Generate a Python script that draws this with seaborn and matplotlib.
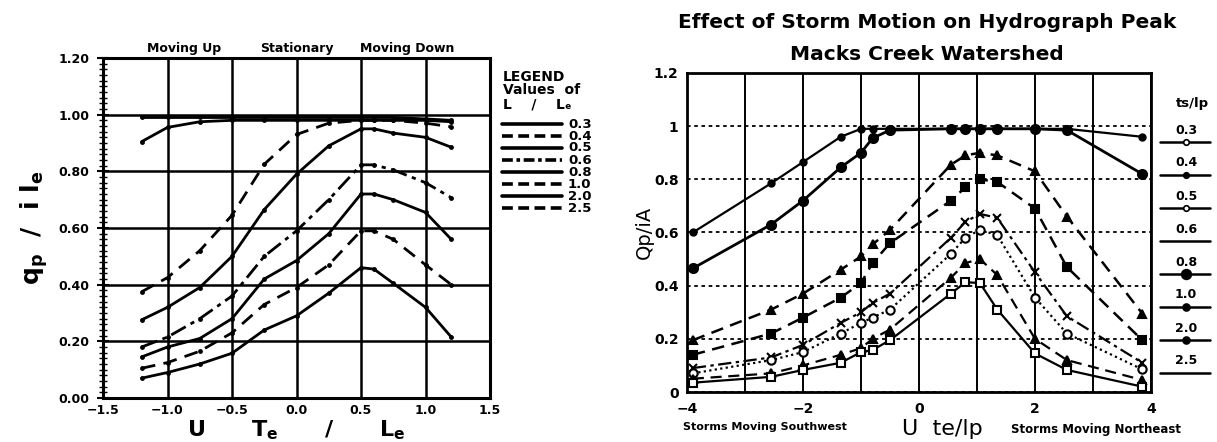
import matplotlib
matplotlib.use("Agg")
import matplotlib.pyplot as plt
from matplotlib.lines import Line2D
from matplotlib.ticker import FixedLocator, MultipleLocator
import seaborn as sns
import pandas as pd

sns.set_theme(style="white")
plt.rcParams['font.family'] = ['DejaVu Sans']
plt.rcParams['text.color'] = 'black'
plt.rcParams['axes.labelcolor'] = 'black'
plt.rcParams['xtick.color'] = 'black'
plt.rcParams['ytick.color'] = 'black'

# ---------------- Left panel data ----------------
L_LABELS = ["0.3", "0.4", "0.5", "0.6", "0.8", "1.0", "2.0", "2.5"]
L_X = [-1.2, -1.0, -0.75, -0.5, -0.25, 0.0, 0.25, 0.5, 0.6, 0.75, 1.0, 1.2]
L_03 = [0.99, 0.99, 0.99, 0.99, 0.99, 0.99, 0.99, 0.99, 0.99, 0.99, 0.985, 0.98]
L_04 = [0.905, 0.955, 0.975, 0.98, 0.98, 0.98, 0.98, 0.98, 0.98, 0.98, 0.98, 0.975]
L_05 = [0.375, 0.425, 0.52, 0.645, 0.825, 0.93, 0.97, 0.98, 0.98, 0.98, 0.97, 0.957]
L_06 = [0.276, 0.32, 0.39, 0.50, 0.665, 0.79, 0.89, 0.95, 0.95, 0.935, 0.92, 0.885]
L_08 = [0.18, 0.215, 0.28, 0.36, 0.50, 0.59, 0.70, 0.823, 0.823, 0.805, 0.76, 0.707]
L_10 = [0.145, 0.18, 0.21, 0.28, 0.42, 0.485, 0.58, 0.72, 0.72, 0.70, 0.655, 0.56]
L_20 = [0.105, 0.125, 0.165, 0.23, 0.33, 0.39, 0.47, 0.59, 0.59, 0.56, 0.47, 0.40]
L_25 = [0.07, 0.09, 0.12, 0.158, 0.24, 0.29, 0.37, 0.46, 0.455, 0.405, 0.32, 0.215]
L_SERIES = [L_03, L_04, L_05, L_06, L_08, L_10, L_20, L_25]
L_XTICKS = [-1.5, -1.0, -0.5, 0.0, 0.5, 1.0, 1.5]
L_XTICKLABELS = ["\u22121.5", "\u22121.0", "\u22120.5", "0.0", "0.5", "1.0", "1.5"]
L_YTICKS = [0.0, 0.2, 0.4, 0.6, 0.8, 1.0, 1.2]
L_YTICKLABELS = ["0.00", "0.20", "0.40", "0.60", "0.80", "1.00", "1.20"]

# ---------------- Right panel data ----------------
R_LABELS = ["0.3", "0.4", "0.5", "0.6", "0.8", "1.0", "2.0", "2.5"]
R_X = [-3.9, -2.55, -2.0, -1.35, -1.0, -0.8, -0.5, 0.55, 0.8, 1.05, 1.35, 2.0, 2.55, 3.85]
R_03 = [0.60, 0.785, 0.865, 0.96, 0.99, 0.99, 0.99, 0.99, 0.99, 0.99, 0.99, 0.99, 0.99, 0.96]
R_04 = [0.465, 0.63, 0.72, 0.845, 0.90, 0.955, 0.985, 0.99, 0.99, 0.99, 0.99, 0.99, 0.985, 0.82]
R_05 = [0.195, 0.31, 0.37, 0.46, 0.51, 0.555, 0.61, 0.855, 0.89, 0.90, 0.89, 0.83, 0.66, 0.295]
R_06 = [0.14, 0.22, 0.28, 0.355, 0.41, 0.485, 0.56, 0.72, 0.77, 0.80, 0.79, 0.69, 0.47, 0.195]
R_08 = [0.09, 0.13, 0.177, 0.26, 0.30, 0.335, 0.37, 0.58, 0.64, 0.67, 0.655, 0.45, 0.285, 0.11]
R_10 = [0.07, 0.12, 0.15, 0.22, 0.26, 0.28, 0.31, 0.52, 0.58, 0.61, 0.59, 0.355, 0.22, 0.085]
R_20 = [0.05, 0.07, 0.10, 0.14, 0.165, 0.20, 0.235, 0.43, 0.485, 0.50, 0.44, 0.20, 0.12, 0.045]
R_25 = [0.035, 0.057, 0.083, 0.11, 0.15, 0.158, 0.195, 0.37, 0.413, 0.41, 0.31, 0.145, 0.083, 0.02]
R_SERIES = [R_03, R_04, R_05, R_06, R_08, R_10, R_20, R_25]
R_XTICKS = [-4, -2, 0, 2, 4]
R_XTICKLABELS = ["\u22124", "\u22122", "0", "2", "4"]
R_YTICKS = [0, 0.2, 0.4, 0.6, 0.8, 1.0, 1.2]
R_YTICKLABELS = ["0", "0.2", "0.4", "0.6", "0.8", "1", "1.2"]

left_df = pd.DataFrame([(lab, x, y) for lab, ys in zip(L_LABELS, L_SERIES) for x, y in zip(L_X, ys)],
                       columns=["ratio", "x", "y"])
right_df = pd.DataFrame([(lab, x, y) for lab, ys in zip(R_LABELS, R_SERIES) for x, y in zip(R_X, ys)],
                        columns=["ratio", "x", "y"])

W, H = 1217, 442
fig = plt.figure(figsize=(W / 100, H / 100), dpi=100)
fig.patch.set_facecolor("white")


def fx(px):
    return px / W


def fy(py):
    return 1 - py / H


# ================= LEFT PANEL =================
axL = fig.add_axes([fx(103), fy(398), fx(490) - fx(103), fy(58) - fy(398)])
l_styles = ["-", "-", (0, (5, 3)), "-", (0, (6, 2, 1.5, 2)), "-", (0, (5, 3)), "-"]
for lab, ls in zip(L_LABELS, l_styles):
    sub = left_df[left_df["ratio"] == lab]
    sns.lineplot(data=sub, x="x", y="y", ax=axL, color="black", linewidth=2.0,
                 linestyle=ls, marker="o", markersize=3.5, markeredgewidth=0,
                 sort=False, legend=False)
axL.set_xlim(-1.5, 1.5)
axL.set_ylim(0, 1.2)
axL.xaxis.set_major_locator(FixedLocator(L_XTICKS))
axL.set_xticklabels(L_XTICKLABELS, fontsize=9, fontweight="bold")
axL.yaxis.set_major_locator(FixedLocator(L_YTICKS))
axL.set_yticklabels(L_YTICKLABELS, fontsize=9, fontweight="bold")
axL.yaxis.set_minor_locator(MultipleLocator(0.02))
axL.tick_params(axis="y", which="major", direction="inout", length=8, width=1.5, left=True, pad=6)
axL.tick_params(axis="y", which="minor", direction="inout", length=6, width=1.0, left=True)
axL.tick_params(axis="x", which="major", direction="in", length=0, pad=4)
axL.grid(True, color="black", linewidth=1.8)
axL.set_axisbelow(True)
for s in axL.spines.values():
    s.set_linewidth(2.2)
    s.set_color("black")
axL.set_xlabel("U      T$_\\mathbf{e}$      /      L$_\\mathbf{e}$", fontsize=16, fontweight="bold",
               labelpad=1)
axL.set_ylabel("q$_\\mathbf{p}$  /  i l$_\\mathbf{e}$", fontsize=18, fontweight="bold", labelpad=6)
for txt, xd in [("Moving Up", -0.87), ("Stationary", 0.0), ("Moving Down", 0.86)]:
    axL.text(xd, 1.008, txt, transform=axL.get_xaxis_transform(), ha="center", va="bottom",
             fontsize=9, fontweight="bold")

# left legend (custom)
fig.text(fx(503), fy(77), "LEGEND", fontsize=10, fontweight="bold", va="center", ha="left")
fig.text(fx(503), fy(90), "Values  of", fontsize=10, fontweight="bold", va="center", ha="left")
fig.text(fx(503), fy(104), "L    /    L\u2091", fontsize=10, fontweight="bold",
         va="center", ha="left")
leg_styles = ["-", (0, (3, 1.5)), "-", (0, (3, 1, 1, 1)), "-", (0, (3, 1.5)), "-", (0, (3, 1.5))]
for i, (lab, ls) in enumerate(zip(L_LABELS, leg_styles)):
    ypx = 124 + i * 12
    fig.add_artist(Line2D([fx(502), fx(562)], [fy(ypx), fy(ypx)], transform=fig.transFigure,
                          color="black", linewidth=2.6, linestyle=ls))
    fig.text(fx(568), fy(ypx), lab, fontsize=9.5, fontweight="bold", va="center", ha="left")

# ================= RIGHT PANEL =================
axR = fig.add_axes([fx(687), fy(392), fx(1151) - fx(687), fy(73) - fy(392)])
r_styles = ["-", "-", (0, (5, 3)), (0, (5, 3)), (0, (6, 2, 1.5, 2)), (0, (1, 1.5)), (0, (5, 3)), "-"]
r_markers = ["o", "o", "^", "s", "x", "o", "^", "s"]
r_ms = [4.5, 6.5, 6, 6, 6, 6, 5.5, 5.5]
r_fill = ["black", "black", "black", "black", "black", "white", "black", "white"]
r_lw = [1.6, 2.0, 1.8, 1.8, 1.6, 1.6, 1.6, 1.6]
for lab, ls, mk, ms, fc, lw in zip(R_LABELS, r_styles, r_markers, r_ms, r_fill, r_lw):
    sub = right_df[right_df["ratio"] == lab]
    sns.lineplot(data=sub, x="x", y="y", ax=axR, color="black", linewidth=lw,
                 linestyle=ls, marker=mk, markersize=ms, markerfacecolor=fc,
                 markeredgecolor="black", markeredgewidth=1.5, sort=False, legend=False)
axR.set_xlim(-4, 4)
axR.set_ylim(0, 1.2)
axR.xaxis.set_major_locator(FixedLocator(R_XTICKS))
axR.set_xticklabels(R_XTICKLABELS, fontsize=10, fontweight="bold")
axR.yaxis.set_major_locator(FixedLocator(R_YTICKS))
axR.set_yticklabels(R_YTICKLABELS, fontsize=10, fontweight="bold")
axR.xaxis.set_minor_locator(MultipleLocator(1))
axR.tick_params(axis="x", which="both", length=0, pad=7)
axR.tick_params(axis="y", which="both", length=0, pad=6)
axR.grid(False)
axR.grid(True, axis="x", which="both", color="black", linewidth=1.4)
axR.grid(True, axis="y", which="major", color="black", linewidth=1.3, linestyle=(0, (2, 2)))
axR.set_axisbelow(True)
for s in axR.spines.values():
    s.set_linewidth(2.0)
    s.set_color("black")
axR.set_ylabel("Qp/iA", fontsize=14, labelpad=0)
axR.set_xlabel("U  te/lp", fontsize=16)
axR.xaxis.set_label_coords(0.55, -0.085)
fig.text(fx(683), fy(427), "Storms Moving Southwest", fontsize=8, fontweight="bold",
         ha="left", va="center")
fig.text(fx(1181), fy(429), "Storms Moving Northeast", fontsize=8.5, fontweight="bold",
         ha="right", va="center")
fig.text(fx(927), fy(22), "Effect of Storm Motion on Hydrograph Peak", fontsize=14.5,
         fontweight="bold", ha="center", va="center")
fig.text(fx(927), fy(54), "Macks Creek Watershed", fontsize=14.5, fontweight="bold",
         ha="center", va="center")

# right legend (custom, label above a short line)
fig.text(fx(1192), fy(104), "ts/lp", fontsize=9.5, fontweight="bold", ha="center", va="center")
leg_mk = ["o", "o", "o", None, "o", "o", "o", None]
leg_ms = [4, 4, 4, 0, 7, 5, 5, 0]
leg_fc = ["white", "black", "white", "black", "black", "black", "black", "black"]
for i, (lab, mk, ms, fc) in enumerate(zip(R_LABELS, leg_mk, leg_ms, leg_fc)):
    ypx = 130 + i * 33
    fig.text(fx(1186), fy(ypx), lab, fontsize=9, fontweight="bold", ha="center", va="center")
    fig.add_artist(Line2D([fx(1160), fx(1210)], [fy(ypx + 12), fy(ypx + 12)],
                          transform=fig.transFigure, color="black", linewidth=1.8))
    if mk is not None:
        fig.add_artist(Line2D([fx(1186)], [fy(ypx + 12)], transform=fig.transFigure,
                              color="black", marker=mk, markersize=ms, markerfacecolor=fc,
                              markeredgewidth=1.2, linestyle="none"))

fig.savefig("out.png", dpi=100, facecolor="white")
